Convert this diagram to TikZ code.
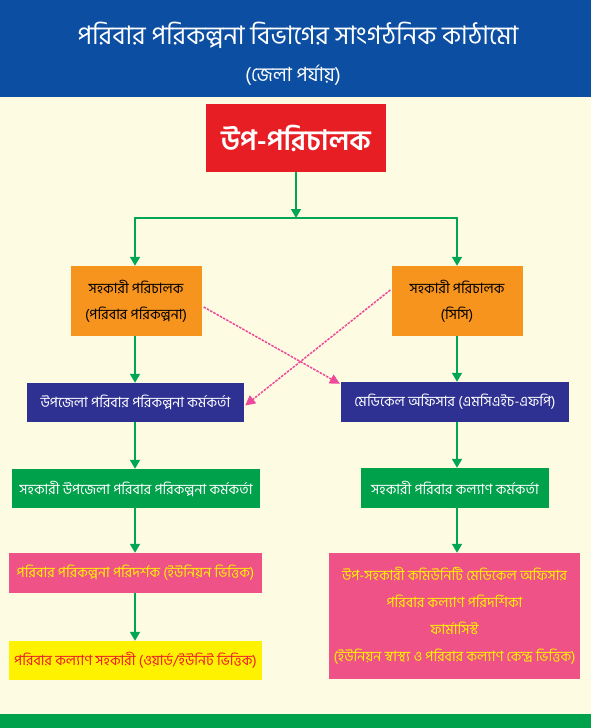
\documentclass[tikz,border=0pt]{standalone}
\usepackage{fontspec}
\newfontfamily\bn[Script=Bengali]{Hind Siliguri}
\usetikzlibrary{arrows.meta}
\definecolor{hdr}{HTML}{0B4EA2}
\definecolor{cream}{HTML}{FEFBE3}
\definecolor{gline}{HTML}{00A651}
\definecolor{redbox}{HTML}{E81E25}
\definecolor{orangebox}{HTML}{F7941D}
\definecolor{bluebox}{HTML}{2E3192}
\definecolor{greenbox}{HTML}{00A14B}
\definecolor{pinkbox}{HTML}{EE5287}
\definecolor{yellowtxt}{HTML}{FFF200}
\definecolor{redtxt}{HTML}{ED1C24}
\definecolor{magline}{HTML}{EC4A9A}
\tikzset{
  box/.style={rectangle, inner sep=0pt, align=center, font=\bn\fontsize{14.2}{26}\selectfont},
  garr/.style={draw=gline, line width=1.6pt, -{Triangle[width=10pt,length=9pt]}, color=gline},
  gplain/.style={draw=gline, line width=1.6pt},
  parr/.style={draw=magline, line width=1.5pt, dash pattern=on 2.5pt off 1.2pt, -{Triangle[width=10pt,length=10pt]}, color=magline}
}
\begin{document}
\begin{tikzpicture}[x=1pt,y=-1pt]
\useasboundingbox (0,0) rectangle (591,728);
\fill[cream] (0,0) rectangle (591,728);
\fill[hdr] (0,0) rectangle (591,97);
\fill[greenbox] (0,714) rectangle (591,728);
\node[font=\bn\fontsize{25.5}{28}\selectfont, text=white] (title) at (298,35) {পরিবার পরিকল্পনা বিভাগের সাংগঠনিক কাঠামো};
\node[font=\bn\fontsize{19.5}{22}\selectfont, text=white] (sub) at (293,75) {(জেলা পর্যায়)};

\node[box, fill=redbox, text=white, minimum width=180pt, minimum height=68pt, font=\bn\bfseries\fontsize{28}{32}\selectfont] (dp) at (296,138) {উপ-পরিচালক};
\node[box, fill=orangebox, text=black, minimum width=131pt, minimum height=70pt] (ol) at (136,301) {সহকারী পরিচালক\\(পরিবার পরিকল্পনা)};
\node[box, fill=orangebox, text=black, minimum width=131pt, minimum height=70pt] (or) at (457,301) {সহকারী পরিচালক\\(সিসি)};
\node[box, fill=bluebox, text=white, minimum width=217pt, minimum height=39pt] (bl) at (135.5,402.5) {উপজেলা পরিবার পরিকল্পনা কর্মকর্তা};
\node[box, fill=bluebox, text=white, minimum width=228pt, minimum height=40pt] (br) at (455,402) {মেডিকেল অফিসার (এমসিএইচ-এফপি)};
\node[box, fill=greenbox, text=white, minimum width=248pt, minimum height=39pt] (gl) at (136,488.5) {সহকারী উপজেলা পরিবার পরিকল্পনা কর্মকর্তা};
\node[box, fill=greenbox, text=white, minimum width=188pt, minimum height=40pt] (gr) at (455,488) {সহকারী পরিবার কল্যাণ কর্মকর্তা};
\node[box, fill=pinkbox, text=yellowtxt, minimum width=253pt, minimum height=40pt] (pl) at (135.5,573) {পরিবার পরিকল্পনা পরিদর্শক (ইউনিয়ন ভিত্তিক)};
\node[box, fill=pinkbox, text=yellowtxt, minimum width=251pt, minimum height=126pt, font=\bn\fontsize{14.2}{27}\selectfont] (pr) at (454.5,616) {উপ-সহকারী কমিউনিটি মেডিকেল অফিসার\\পরিবার কল্যাণ পরিদর্শিকা\\ফার্মাসিস্ট\\(ইউনিয়ন স্বাস্থ্য ও পরিবার কল্যাণ কেন্দ্র ভিত্তিক)};
\node[box, fill=yellowtxt, text=redtxt, minimum width=253pt, minimum height=39pt] (yl) at (135.5,660.5) {পরিবার কল্যাণ সহকারী (ওয়ার্ড/ইউনিট ভিত্তিক)};

\coordinate (j) at (296,218);
\coordinate (jl) at (135,218);
\coordinate (jr) at (457,218);
\draw[gplain] ([xshift=-0.8pt]jl) -- ([xshift=0.8pt]jr);
\draw[garr] (dp.south) -- (j);
\draw[garr] (jl) -- (jl |- ol.north);
\draw[garr] (jr) -- (jr |- or.north);
\draw[garr] (jl |- ol.south) -- (jl |- bl.north);
\draw[garr] (jr |- or.south) -- (jr |- br.north);
\draw[garr] (jl |- bl.south) -- (jl |- gl.north);
\draw[garr] (jr |- br.south) -- (jr |- gr.north);
\draw[garr] (jl |- gl.south) -- (jl |- pl.north);
\draw[garr] (jr |- gr.south) -- (jr |- pr.north);
\draw[garr] (jl |- pl.south) -- (jl |- yl.north);

\draw[parr] ([xshift=2pt,yshift=-6pt]ol.east) -- ([xshift=-1pt,yshift=-2pt]br.north west);
\draw[parr] ([xshift=-1pt,yshift=11pt]or.west) -- ([xshift=1pt,yshift=-3pt]bl.east);
\end{tikzpicture}
\end{document}
